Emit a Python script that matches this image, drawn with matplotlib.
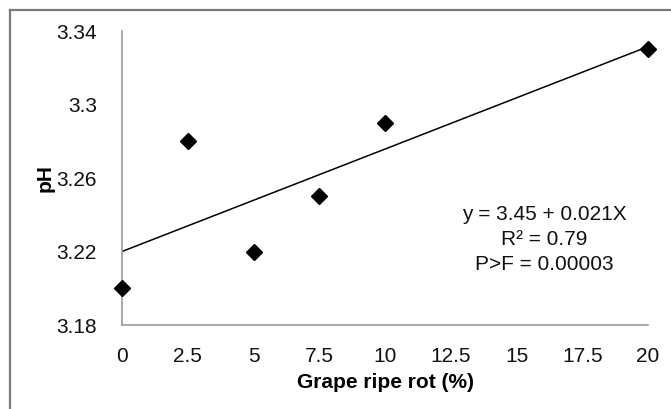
import matplotlib
matplotlib.use('Agg')
import matplotlib.pyplot as plt
from matplotlib.lines import Line2D

plt.rcParams['font.family'] = ['Liberation Sans', 'DejaVu Sans']

# data
rot = [0, 2.5, 5, 7.5, 10, 20]
ph = [3.20, 3.28, 3.22, 3.25, 3.29, 3.33]
trend_x = [0, 20]
trend_y = [3.22, 3.3315]
x_ticks = [0, 2.5, 5, 7.5, 10, 12.5, 15, 17.5, 20]
x_labels = ['0', '2.5', '5', '7.5', '10', '12.5', '15', '17.5', '20']
y_ticks = [3.18, 3.22, 3.26, 3.30, 3.34]
y_labels = ['3.18', '3.22', '3.26', '3.3', '3.34']

fig = plt.figure(figsize=(6.71, 4.09), dpi=100)
ax = fig.add_axes([122 / 671, 1 - 325 / 409, (648 - 122) / 671, (325 - 31) / 409])

# outer chart frame (only left and top visible in the crop)
fig.add_artist(Line2D([10 / 671, 10 / 671], [0, 1 - 10 / 409], transform=fig.transFigure,
                      color='#7a7a7a', lw=1.6))
fig.add_artist(Line2D([10 / 671, 1], [1 - 10 / 409, 1 - 10 / 409], transform=fig.transFigure,
                      color='#7a7a7a', lw=1.6))

ax.plot(trend_x, trend_y, color='black', lw=1.1, zorder=2)
ax.plot(rot, ph, linestyle='none', marker='D', markersize=8.5, color='black', zorder=3,
        clip_on=False)

ax.set_xlim(0, 20)
ax.set_ylim(3.18, 3.34)
ax.set_xticks(x_ticks)
ax.set_xticklabels(x_labels)
ax.set_yticks(y_ticks)
ax.set_yticklabels(y_labels)
ax.tick_params(length=0, labelsize=15, colors='#111111')
ax.tick_params(axis='x', pad=16)
ax.tick_params(axis='y', pad=18)

for side in ['top', 'right']:
    ax.spines[side].set_visible(False)
for side in ['left', 'bottom']:
    ax.spines[side].set_color('#9a9a9a')
    ax.spines[side].set_linewidth(1.2)

ax.set_xlabel('Grape ripe rot (%)', fontsize=15, fontweight='bold', labelpad=5)
ax.set_ylabel('pH', fontsize=15, fontweight='bold', labelpad=1)

ax.text(0.802, 0.2925, 'y = 3.45 + 0.021X\nR² = 0.79\nP>F = 0.00003', transform=ax.transAxes,
        ha='center', va='center', fontsize=15, linespacing=1.4, color='#111111')

fig.savefig('out.png', dpi=100)
